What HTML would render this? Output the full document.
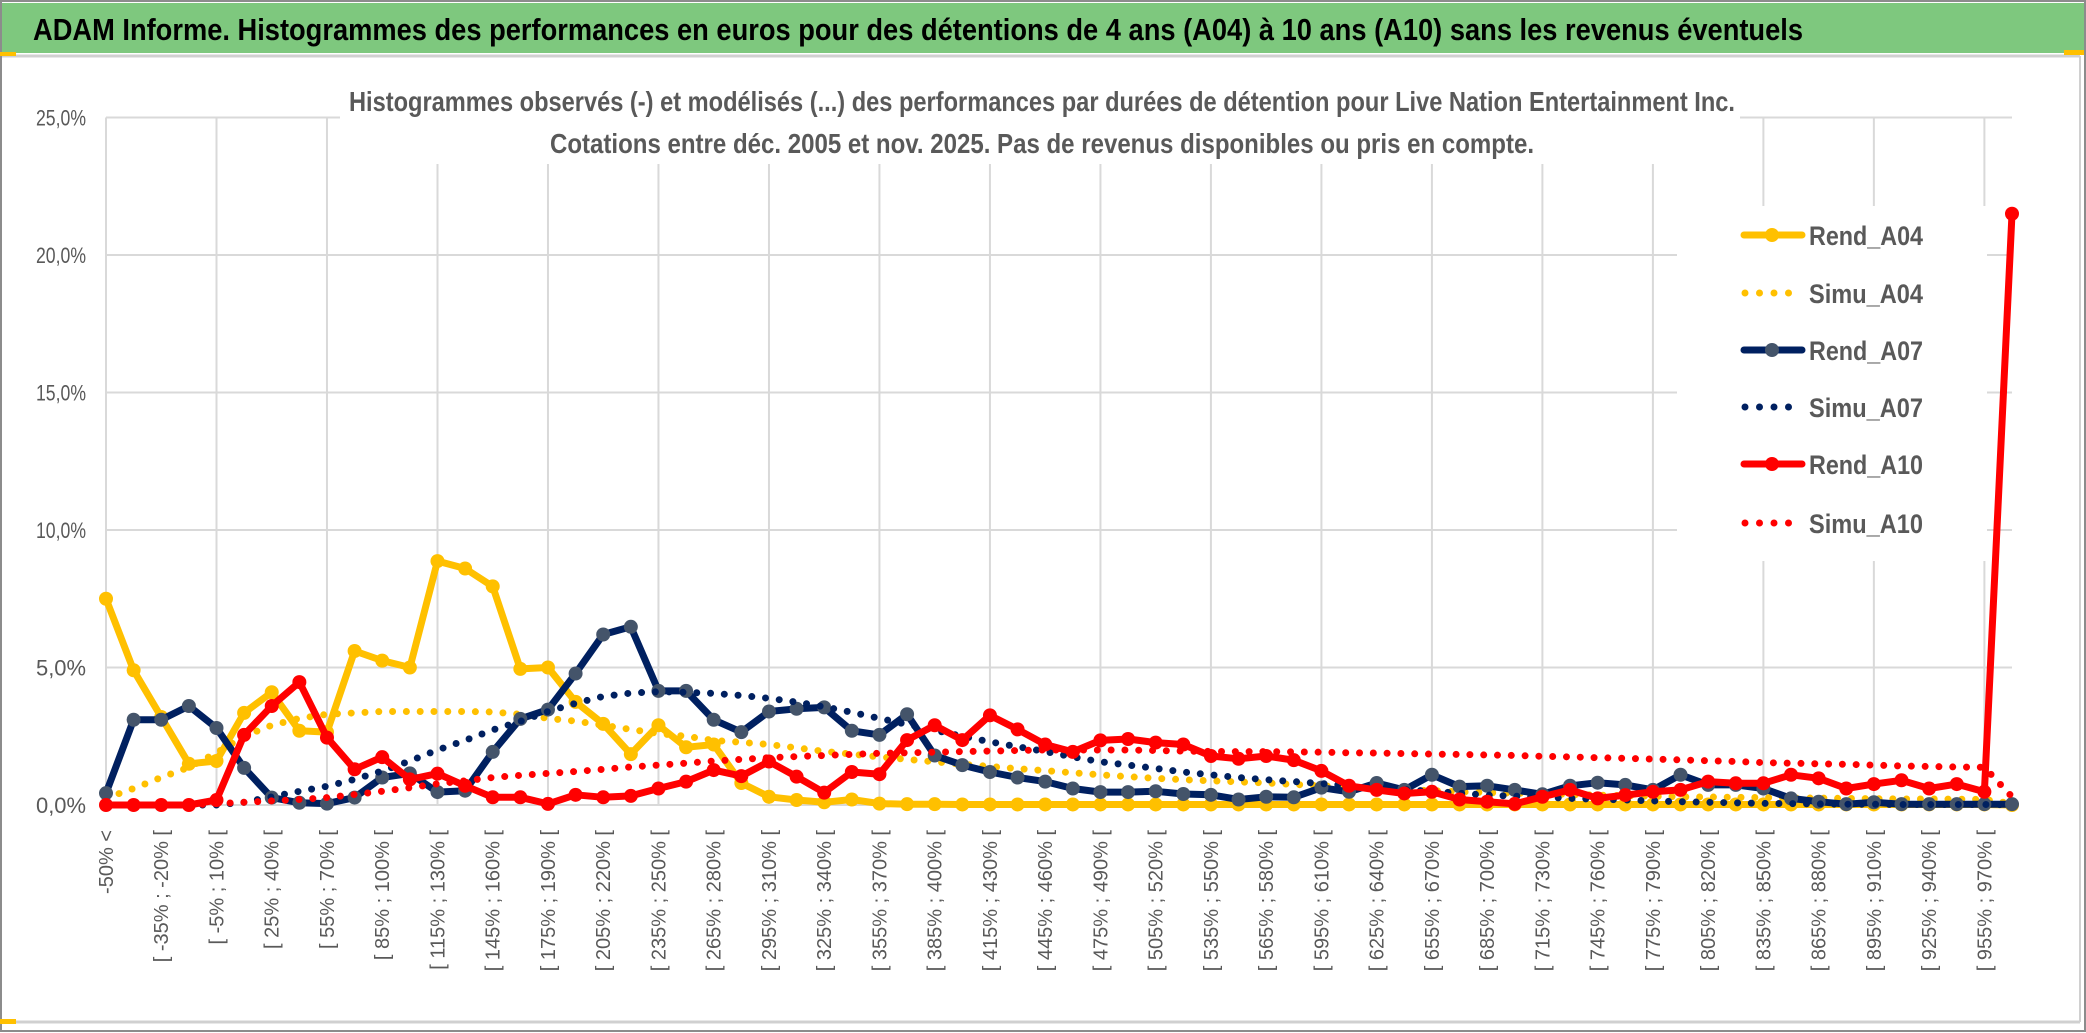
<!DOCTYPE html>
<html><head><meta charset="utf-8"><style>
html,body{margin:0;padding:0;background:#fff;}
svg{display:block;font-family:"Liberation Sans",sans-serif;}
</style></head><body>
<svg id="chart" width="2086" height="1033" viewBox="0 0 2086 1033" xmlns="http://www.w3.org/2000/svg">
<rect x="0" y="0" width="2086" height="1033" fill="#ffffff"/>
<rect x="1" y="1" width="2084" height="1030" fill="none" stroke="#8c8c8c" stroke-width="2"/>
<rect x="2" y="3" width="2082" height="50" fill="#7ec87e"/>
<line x1="2" y1="56" x2="2080" y2="56" stroke="#d0d0d0" stroke-width="3"/>
<rect x="0" y="52" width="16" height="4" fill="#ffc000"/>
<rect x="2064" y="50" width="20" height="5" fill="#ffc000"/>
<rect x="0" y="1019" width="16" height="5" fill="#ffc000"/>
<line x1="16" y1="1022" x2="2080" y2="1022" stroke="#d0d0d0" stroke-width="3"/>
<line x1="2080" y1="56" x2="2080" y2="1022" stroke="#d0d0d0" stroke-width="2"/>
<text x="33" y="40" font-size="31" font-weight="bold" fill="#000" textLength="1770" lengthAdjust="spacingAndGlyphs">ADAM Informe. Histogrammes des performances en euros pour des détentions de 4 ans (A04) à 10 ans (A10) sans les revenus éventuels</text>
<g id="grid"></g>
<g id="yaxis"></g>
<g id="xaxis"></g>
<g id="series"></g>
<rect x="340" y="82" width="1400" height="82" fill="#ffffff"/>
<text x="1042" y="111" font-size="28" font-weight="bold" fill="#595959" text-anchor="middle" textLength="1386" lengthAdjust="spacingAndGlyphs">Histogrammes observés (-) et modélisés (...) des performances par durées de détention pour Live Nation Entertainment Inc.</text>
<text x="1042" y="153" font-size="28" font-weight="bold" fill="#595959" text-anchor="middle" textLength="984" lengthAdjust="spacingAndGlyphs">Cotations entre déc. 2005 et nov. 2025. Pas de revenus disponibles ou pris en compte.</text>
<rect x="1677" y="206" width="310" height="355" fill="#ffffff"/>
<g id="legend"></g>
</svg>
<script>
const categories = ["-50% <","[ -50% ; -35% [","[ -35% ; -20% [","[ -20% ; -5% [","[ -5% ; 10% [","[ 10% ; 25% [","[ 25% ; 40% [","[ 40% ; 55% [","[ 55% ; 70% [","[ 70% ; 85% [","[ 85% ; 100% [","[ 100% ; 115% [","[ 115% ; 130% [","[ 130% ; 145% [","[ 145% ; 160% [","[ 160% ; 175% [","[ 175% ; 190% [","[ 190% ; 205% [","[ 205% ; 220% [","[ 220% ; 235% [","[ 235% ; 250% [","[ 250% ; 265% [","[ 265% ; 280% [","[ 280% ; 295% [","[ 295% ; 310% [","[ 310% ; 325% [","[ 325% ; 340% [","[ 340% ; 355% [","[ 355% ; 370% [","[ 370% ; 385% [","[ 385% ; 400% [","[ 400% ; 415% [","[ 415% ; 430% [","[ 430% ; 445% [","[ 445% ; 460% [","[ 460% ; 475% [","[ 475% ; 490% [","[ 490% ; 505% [","[ 505% ; 520% [","[ 520% ; 535% [","[ 535% ; 550% [","[ 550% ; 565% [","[ 565% ; 580% [","[ 580% ; 595% [","[ 595% ; 610% [","[ 610% ; 625% [","[ 625% ; 640% [","[ 640% ; 655% [","[ 655% ; 670% [","[ 670% ; 685% [","[ 685% ; 700% [","[ 700% ; 715% [","[ 715% ; 730% [","[ 730% ; 745% [","[ 745% ; 760% [","[ 760% ; 775% [","[ 775% ; 790% [","[ 790% ; 805% [","[ 805% ; 820% [","[ 820% ; 835% [","[ 835% ; 850% [","[ 850% ; 865% [","[ 865% ; 880% [","[ 880% ; 895% [","[ 895% ; 910% [","[ 910% ; 925% [","[ 925% ; 940% [","[ 940% ; 955% [","[ 955% ; 970% [","970% >"];
const rendA04 = [7.5,4.9,3.2,1.5,1.6,3.35,4.1,2.7,2.65,5.6,5.25,5.0,8.87,8.6,7.95,4.95,5.0,3.75,2.95,1.85,2.9,2.1,2.2,0.8,0.3,0.18,0.1,0.2,0.05,0.03,0.03,0.02,0.02,0.02,0.02,0.02,0.02,0.02,0.02,0.02,0.02,0.02,0.02,0.02,0.02,0.02,0.02,0.02,0.02,0.02,0.02,0.02,0.02,0.02,0.02,0.02,0.02,0.02,0.02,0.02,0.02,0.02,0.02,0.02,0.02,0.02,0.02,0.02,0.02,0];
const simuA04 = [0.25,0.6,1.0,1.37,1.9,2.5,2.9,3.15,3.3,3.35,3.4,3.4,3.4,3.4,3.38,3.3,3.15,3.05,2.9,2.75,2.6,2.5,2.35,2.28,2.2,2.08,1.95,1.85,1.75,1.66,1.57,1.48,1.4,1.32,1.25,1.17,1.1,1.03,0.97,0.92,0.88,0.84,0.8,0.75,0.7,0.65,0.6,0.56,0.52,0.48,0.45,0.43,0.41,0.38,0.36,0.34,0.32,0.3,0.29,0.28,0.27,0.26,0.25,0.24,0.23,0.22,0.22,0.21,0.2,0.05];
const rendA07 = [0.43,3.1,3.1,3.6,2.8,1.35,0.27,0.08,0.05,0.27,1.0,1.15,0.47,0.52,1.93,3.13,3.47,4.78,6.2,6.48,4.15,4.15,3.1,2.65,3.4,3.5,3.55,2.7,2.55,3.3,1.8,1.45,1.2,1.0,0.85,0.6,0.47,0.47,0.5,0.4,0.37,0.2,0.3,0.28,0.63,0.48,0.8,0.55,1.1,0.67,0.7,0.55,0.39,0.7,0.81,0.73,0.55,1.1,0.73,0.73,0.6,0.24,0.12,0.03,0.1,0.03,0.03,0.03,0.03,0.03];
const simuA07 = [0,0,0,0,0,0.1,0.3,0.5,0.68,0.93,1.24,1.6,2.0,2.35,2.73,3.04,3.4,3.7,3.95,4.07,4.12,4.1,4.06,3.98,3.88,3.74,3.57,3.37,3.15,2.93,2.72,2.5,2.3,2.12,1.94,1.75,1.57,1.45,1.33,1.2,1.1,1.0,0.92,0.85,0.78,0.7,0.63,0.56,0.5,0.43,0.36,0.32,0.28,0.24,0.21,0.18,0.15,0.12,0.1,0.08,0.06,0.05,0.04,0.03,0.03,0.02,0.02,0.02,0.02,0.01];
const rendA10 = [0,0,0,0,0.18,2.55,3.6,4.47,2.45,1.3,1.74,0.93,1.14,0.7,0.28,0.28,0.04,0.37,0.28,0.33,0.6,0.85,1.27,1.05,1.58,1.03,0.45,1.2,1.12,2.36,2.9,2.36,3.26,2.75,2.2,1.93,2.35,2.4,2.27,2.2,1.78,1.68,1.78,1.63,1.24,0.7,0.55,0.42,0.48,0.2,0.12,0.04,0.3,0.55,0.24,0.36,0.48,0.55,0.85,0.79,0.79,1.1,0.97,0.6,0.76,0.9,0.6,0.76,0.48,21.5];
const simuA10 = [0,0,0,0,0.05,0.1,0.15,0.2,0.27,0.38,0.5,0.63,0.77,0.88,1.0,1.08,1.15,1.22,1.3,1.38,1.45,1.52,1.6,1.66,1.72,1.76,1.8,1.84,1.88,1.9,1.92,1.94,1.96,1.98,2.0,2.0,2.0,2.0,1.98,1.96,1.95,1.94,1.94,1.93,1.92,1.9,1.89,1.87,1.85,1.84,1.82,1.8,1.77,1.75,1.72,1.7,1.67,1.64,1.61,1.58,1.54,1.52,1.5,1.48,1.45,1.42,1.4,1.38,1.37,0.3];
const yTicks = [0,5,10,15,20,25];
const yTickLabels = ["0,0%","5,0%","10,0%","15,0%","20,0%","25,0%"];
const seriesNames = ["Rend_A04","Simu_A04","Rend_A07","Simu_A07","Rend_A10","Simu_A10"];

const NS = "http://www.w3.org/2000/svg";
const X0 = 106, X1 = 2012, Y0 = 805, YPER = 27.5;
function xScale(i){ return X0 + i * (X1 - X0) / (categories.length - 1); }
function yScale(v){ return Y0 - v * YPER; }
function mk(tag, attrs, parent){ const e = document.createElementNS(NS, tag); for (const k in attrs) e.setAttribute(k, attrs[k]); parent.appendChild(e); return e; }

const grid = document.getElementById('grid');
yTicks.forEach((t, k) => {
  const l = mk('line', {x1: X0, x2: X1, y1: yScale(t), y2: yScale(t), stroke: '#d9d9d9', 'stroke-width': 2}, grid);
  
  
});
for (let i = 0; i < categories.length; i += 4) {
  const l = mk('line', {x1: xScale(i), x2: xScale(i), y1: yScale(25), y2: yScale(0), stroke: '#d9d9d9', 'stroke-width': 2}, grid);
  
  
}
const yaxis = document.getElementById('yaxis');
yTicks.forEach((t, k) => {
  const tx = mk('text', {x: 86, y: yScale(t) + 8, 'font-size': 22, fill: '#595959', 'text-anchor': 'end', textLength: 50, lengthAdjust: 'spacingAndGlyphs'}, yaxis);
  
  
  tx.textContent = yTickLabels[k];
});
const xaxis = document.getElementById('xaxis');
for (let i = 0; i < categories.length; i += 2) {
  const x = xScale(i) + 7, y = 830;
  const tx = mk('text', {x: x, y: y, 'font-size': 20, fill: '#595959', 'text-anchor': 'end', transform: 'rotate(-90 ' + x + ' ' + y + ')'}, xaxis);
  
  
  tx.textContent = categories[i];
}
const seriesG = document.getElementById('series');
const styles = [
  {data: rendA04, color: '#ffc000', marker: '#ffc000', dotted: false},
  {data: simuA04, color: '#ffc000', dotted: true},
  {data: rendA07, color: '#002060', marker: '#44546a', dotted: false},
  {data: simuA07, color: '#002060', dotted: true},
  {data: rendA10, color: '#ff0000', marker: '#ff0000', dotted: false},
  {data: simuA10, color: '#ff0000', dotted: true}
];
styles.forEach((s, si) => {
  const g = mk('g', {}, seriesG);
  
  
  const pts = s.data.map((v, i) => xScale(i).toFixed(1) + ',' + yScale(v).toFixed(1)).join(' ');
  const attrs = {points: pts, fill: 'none', stroke: s.color, 'stroke-linejoin': 'round', 'stroke-linecap': 'round'};
  if (s.dotted) { attrs['stroke-width'] = 7; attrs['stroke-dasharray'] = '0 13.8'; } else { attrs['stroke-width'] = 7; }
  const pl = mk('polyline', attrs, g);
  
  
  if (!s.dotted) {
    s.data.forEach((v, i) => {
      const c = mk('circle', {cx: xScale(i), cy: yScale(v), r: 7, fill: s.marker}, g);
      
      
    });
  }
});
const legend = document.getElementById('legend');
const legendY = [235, 293, 350, 407, 464, 523];
styles.forEach((s, si) => {
  const y = legendY[si];
  const g = mk('g', {}, legend);
  
  
  if (s.dotted) {
    const l = mk('line', {x1: 1745, x2: 1800, y1: y, y2: y, stroke: s.color, 'stroke-width': 7, 'stroke-linecap': 'round', 'stroke-dasharray': '0 14.5'}, g);
    
    
  } else {
    const l = mk('line', {x1: 1744, x2: 1802, y1: y, y2: y, stroke: s.color, 'stroke-width': 7, 'stroke-linecap': 'round'}, g);
    
    
    const c = mk('circle', {cx: 1772, cy: y, r: 7, fill: s.marker}, g);
    
    
  }
  const t = mk('text', {x: 1809, y: y + 10, 'font-size': 27, 'font-weight': 'bold', fill: '#595959', textLength: 114, lengthAdjust: 'spacingAndGlyphs'}, g);
  
  
  t.textContent = seriesNames[si];
});
</script>
</body></html>
